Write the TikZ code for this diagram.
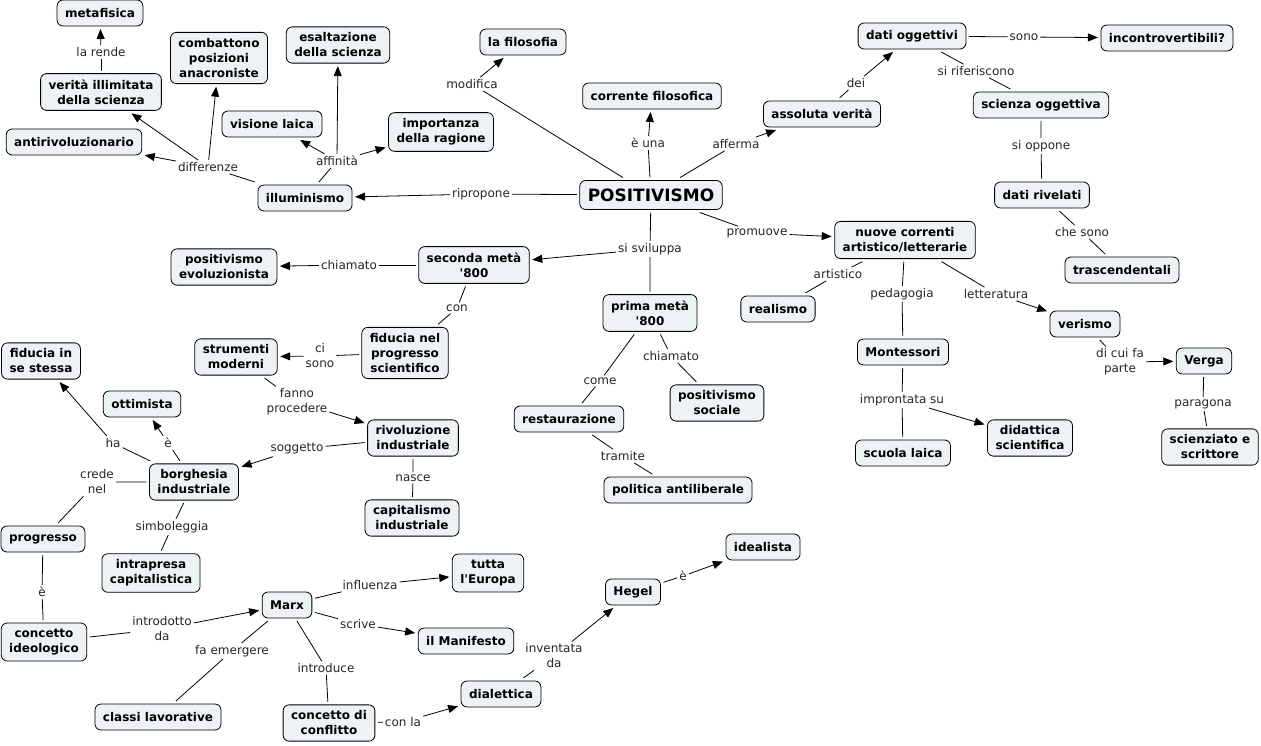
\documentclass[tikz,border=0pt]{standalone}
\usepackage{fontspec}
\setmainfont{DejaVu Sans}
\usetikzlibrary{arrows.meta}
\definecolor{cmapfill}{RGB}{237,242,245}
\tikzset{
	concept/.style={draw=black, fill=cmapfill, rounded corners=6pt, line width=0.8pt, font=\bfseries\fontsize{12}{15}\selectfont, align=center, inner xsep=8pt, inner ysep=6pt, minimum height=26pt, outer sep=3pt},
	linkword/.style={fill=white, text=black!85, font=\fontsize{12}{15}\selectfont, align=center, inner sep=2pt},
	conn/.style={line width=0.8pt},
	toarrow/.style={line width=0.8pt, -{Triangle[length=10pt,width=8pt]}}
}

\begin{document}
\begin{tikzpicture}[x=1pt, y=-1pt]
		%%%%% START %%%%%
		
		\fill[white] (0, 0) rectangle (1261, 746);
		\useasboundingbox (0, 0) rectangle (1261, 746);
		
		\node[concept] (metafisica) at (100, 13) {metafisica};
		\node[concept] (verita) at (101, 92) {verità illimitata\\della scienza};
		\node[concept] (combattono) at (219, 58) {combattono\\posizioni\\anacroniste};
		\node[concept] (esaltazione) at (338, 45) {esaltazione\\della scienza};
		\node[concept] (visione) at (272, 124) {visione laica};
		\node[concept] (antiriv) at (74, 142) {antirivoluzionario};
		\node[concept] (importanza) at (441, 132) {importanza\\della ragione};
		\node[concept] (illuminismo) at (305, 198) {illuminismo};
		
		\node[concept] (filosofia) at (523, 42) {la filosofia};
		\node[concept] (corrente) at (652, 96) {corrente filosofica};
		\node[concept, font=\bfseries\fontsize{17}{19}\selectfont, minimum height=29pt] (positivismo) at (651, 195) {POSITIVISMO};
		\node[concept] (assoluta) at (822, 114) {assoluta verità};
		
		\node[concept] (datiogg) at (912, 36) {dati oggettivi};
		\node[concept] (incontro) at (1167, 38) {incontrovertibili?};
		\node[concept] (scienzaogg) at (1041, 105) {scienza oggettiva};
		\node[concept] (datiriv) at (1042, 195) {dati rivelati};
		\node[concept] (trascend) at (1122, 270) {trascendentali};
		
		\node[concept] (nuove) at (905, 240) {nuove correnti\\artistico/letterarie};
		\node[concept] (realismo) at (778, 309) {realismo};
		\node[concept] (verismo) at (1085, 324) {verismo};
		\node[concept] (montessori) at (903, 352) {Montessori};
		\node[concept] (verga) at (1204, 361) {Verga};
		\node[concept] (didattica) at (1030, 438) {didattica\\scientifica};
		\node[concept] (scuola) at (903, 453) {scuola laica};
		\node[concept] (scienziato) at (1210, 447) {scienziato e\\scrittore};
		
		\node[concept] (evoluz) at (224, 267) {positivismo\\evoluzionista};
		\node[concept] (seconda) at (474, 265) {seconda metà\\\textquotesingle800};
		\node[concept] (prima) at (650, 313) {prima metà\\\textquotesingle800};
		\node[concept] (sociale) at (717, 403) {positivismo\\sociale};
		\node[concept] (restauraz) at (569, 419) {restaurazione};
		\node[concept] (politica) at (678, 490) {politica antiliberale};
		
		\node[concept] (fiducianel) at (405, 353) {fiducia nel\\progresso\\scientifico};
		\node[concept] (strumenti) at (236, 357) {strumenti\\moderni};
		\node[concept] (fiduciain) at (41, 361) {fiducia in\\se stessa};
		\node[concept] (ottimista) at (142, 404) {ottimista};
		\node[concept] (rivoluz) at (413, 438) {rivoluzione\\industriale};
		\node[concept] (borghesia) at (194, 482) {borghesia\\industriale};
		\node[concept] (capitalismo) at (412, 518) {capitalismo\\industriale};
		\node[concept] (progresso) at (43, 539) {progresso};
		\node[concept] (intrapresa) at (151, 573) {intrapresa\\capitalistica};
		
		\node[concept] (ideologico) at (44, 642) {concetto\\ideologico};
		\node[concept] (marx) at (287, 605) {Marx};
		\node[concept] (europa) at (488, 573) {tutta\\l\textquotesingle Europa};
		\node[concept] (manifesto) at (466, 641) {il Manifesto};
		\node[concept] (classi) at (158, 717) {classi lavorative};
		\node[concept] (conflitto) at (329, 723) {concetto di\\conflitto};
		\node[concept] (dialettica) at (501, 694) {dialettica};
		\node[concept] (hegel) at (633, 592) {Hegel};
		\node[concept] (idealista) at (763, 547) {idealista};
		
		%%%%% LINKING WORDS %%%%%
		
		\node[linkword] (larende) at (101, 52) {la rende};
		\node[linkword] (differenze) at (208, 167) {differenze};
		\node[linkword] (affinita) at (337, 161) {affinità};
		\node[linkword] (modifica) at (472, 84) {modifica};
		\node[linkword] (euna) at (648, 143) {è una};
		\node[linkword] (afferma) at (736, 144) {afferma};
		\node[linkword] (ripropone) at (481, 194) {ripropone};
		\node[linkword] (dei) at (856, 83) {dei};
		\node[linkword] (sono) at (1024, 37) {sono};
		\node[linkword] (siriferiscono) at (976, 71) {si riferiscono};
		\node[linkword] (sioppone) at (1041, 146) {si oppone};
		\node[linkword] (chesono) at (1082, 232) {che sono};
		\node[linkword] (promuove) at (757, 233) {promuove};
		\node[linkword] (artistico) at (838, 274) {artistico};
		\node[linkword] (pedagogia) at (902, 294) {pedagogia};
		\node[linkword] (letteratura) at (996, 294) {letteratura};
		\node[linkword] (dicui) at (1120, 362) {di cui fa\\parte};
		\node[linkword] (paragona) at (1203, 404) {paragona};
		\node[linkword] (improntata) at (902, 400) {improntata su};
		\node[linkword] (sisviluppa) at (650, 249) {si sviluppa};
		\node[linkword] (chiamatoevo) at (349, 265) {chiamato};
		\node[linkword] (con) at (457, 308) {con};
		\node[linkword] (cisono) at (320, 356) {ci\\sono};
		\node[linkword] (fanno) at (297, 402) {fanno\\procedere};
		\node[linkword] (soggetto) at (297, 449) {soggetto};
		\node[linkword] (nasce) at (413, 478) {nasce};
		\node[linkword] (ha) at (113, 443) {ha};
		\node[linkword] (eottim) at (168, 443) {è};
		\node[linkword] (credenel) at (97, 482) {crede\\nel};
		\node[linkword] (simboleggia) at (172, 527) {simboleggia};
		\node[linkword] (eprogr) at (42, 592) {è};
		\node[linkword] (introdotto) at (162, 629) {introdotto\\da};
		\node[linkword] (influenza) at (370, 585) {influenza};
		\node[linkword] (scrive) at (358, 624) {scrive};
		\node[linkword] (faemergere) at (232, 651) {fa emergere};
		\node[linkword] (introduce) at (326, 668) {introduce};
		\node[linkword] (conla) at (403, 722) {con la};
		\node[linkword] (inventata) at (554, 656) {inventata\\da};
		\node[linkword] (ehegel) at (683, 576) {è};
		\node[linkword] (come) at (600, 381) {come};
		\node[linkword] (chiamatosoc) at (671, 356) {chiamato};
		\node[linkword] (tramite) at (623, 456) {tramite};
		
		%%%%% CONNECTIONS %%%%%
		
		\draw[conn] (verita) -- (larende);
		\draw[toarrow] (larende) -- (metafisica);
		\draw[conn] (illuminismo) -- (differenze);
		\draw[toarrow] (differenze) -- (antiriv);
		\draw[toarrow] (differenze) -- (verita);
		\draw[toarrow] (differenze) -- (combattono);
		\draw[conn] (illuminismo) -- (affinita);
		\draw[toarrow] (affinita) -- (visione);
		\draw[toarrow] (affinita) -- (esaltazione);
		\draw[toarrow] (affinita) -- (importanza);
		
		\draw[conn] (positivismo) -- (modifica);
		\draw[toarrow] (modifica) -- (filosofia);
		\draw[conn] (positivismo) -- (euna);
		\draw[toarrow] (euna) -- (corrente);
		\draw[conn] (positivismo) -- (afferma);
		\draw[toarrow] (afferma) -- (assoluta);
		\draw[conn] (positivismo) -- (ripropone);
		\draw[toarrow] (ripropone) -- (illuminismo);
		\draw[conn] (positivismo) -- (promuove);
		\draw[toarrow] (promuove) -- (nuove);
		\draw[conn] (positivismo) -- (sisviluppa) -- (prima);
		\draw[toarrow] (sisviluppa) -- (seconda);
		
		\draw[conn] (assoluta) -- (dei);
		\draw[toarrow] (dei) -- (datiogg);
		\draw[conn] (datiogg) -- (sono);
		\draw[toarrow] (sono) -- (incontro);
		\draw[conn] (datiogg) -- (siriferiscono) -- (scienzaogg);
		\draw[conn] (scienzaogg) -- (sioppone) -- (datiriv);
		\draw[conn] (datiriv) -- (chesono) -- (trascend);
		
		\draw[conn] (nuove) -- (artistico) -- (realismo);
		\draw[conn] (nuove) -- (pedagogia) -- (montessori);
		\draw[conn] (nuove) -- (letteratura);
		\draw[toarrow] (letteratura) -- (verismo);
		\draw[conn] (verismo) -- (dicui);
		\draw[toarrow] (dicui) -- (verga);
		\draw[conn] (verga) -- (paragona) -- (scienziato);
		\draw[conn] (montessori) -- (improntata) -- (scuola);
		\draw[toarrow] (improntata) -- (didattica);
		
		\draw[conn] (seconda) -- (chiamatoevo);
		\draw[toarrow] (chiamatoevo) -- (evoluz);
		\draw[conn] (seconda) -- (con) -- (fiducianel);
		\draw[conn] (fiducianel) -- (cisono);
		\draw[toarrow] (cisono) -- (strumenti);
		\draw[conn] (strumenti) -- (fanno);
		\draw[toarrow] (fanno) -- (rivoluz);
		\draw[conn] (rivoluz) -- (soggetto);
		\draw[toarrow] (soggetto) -- (borghesia);
		\draw[conn] (rivoluz) -- (nasce) -- (capitalismo);
		
		\draw[conn] (borghesia) -- (ha);
		\draw[toarrow] (ha) -- (fiduciain);
		\draw[conn] (borghesia) -- (eottim);
		\draw[toarrow] (eottim) -- (ottimista);
		\draw[conn] (borghesia) -- (credenel) -- (progresso);
		\draw[conn] (borghesia) -- (simboleggia) -- (intrapresa);
		\draw[conn] (progresso) -- (eprogr) -- (ideologico);
		
		\draw[conn] (ideologico) -- (introdotto);
		\draw[toarrow] (introdotto) -- (marx);
		\draw[conn] (marx) -- (influenza);
		\draw[toarrow] (influenza) -- (europa);
		\draw[conn] (marx) -- (scrive);
		\draw[toarrow] (scrive) -- (manifesto);
		\draw[conn] (marx) -- (faemergere) -- (classi);
		\draw[conn] (marx) -- (introduce) -- (conflitto);
		\draw[conn] (conflitto) -- (conla);
		\draw[toarrow] (conla) -- (dialettica);
		\draw[conn] (dialettica) -- (inventata);
		\draw[toarrow] (inventata) -- (hegel);
		\draw[conn] (hegel) -- (ehegel);
		\draw[toarrow] (ehegel) -- (idealista);
		
		\draw[conn] (prima) -- (come) -- (restauraz);
		\draw[conn] (prima) -- (chiamatosoc) -- (sociale);
		\draw[conn] (restauraz) -- (tramite) -- (politica);
		
		%%%%% END %%%%%
	\end{tikzpicture}
\end{document}
